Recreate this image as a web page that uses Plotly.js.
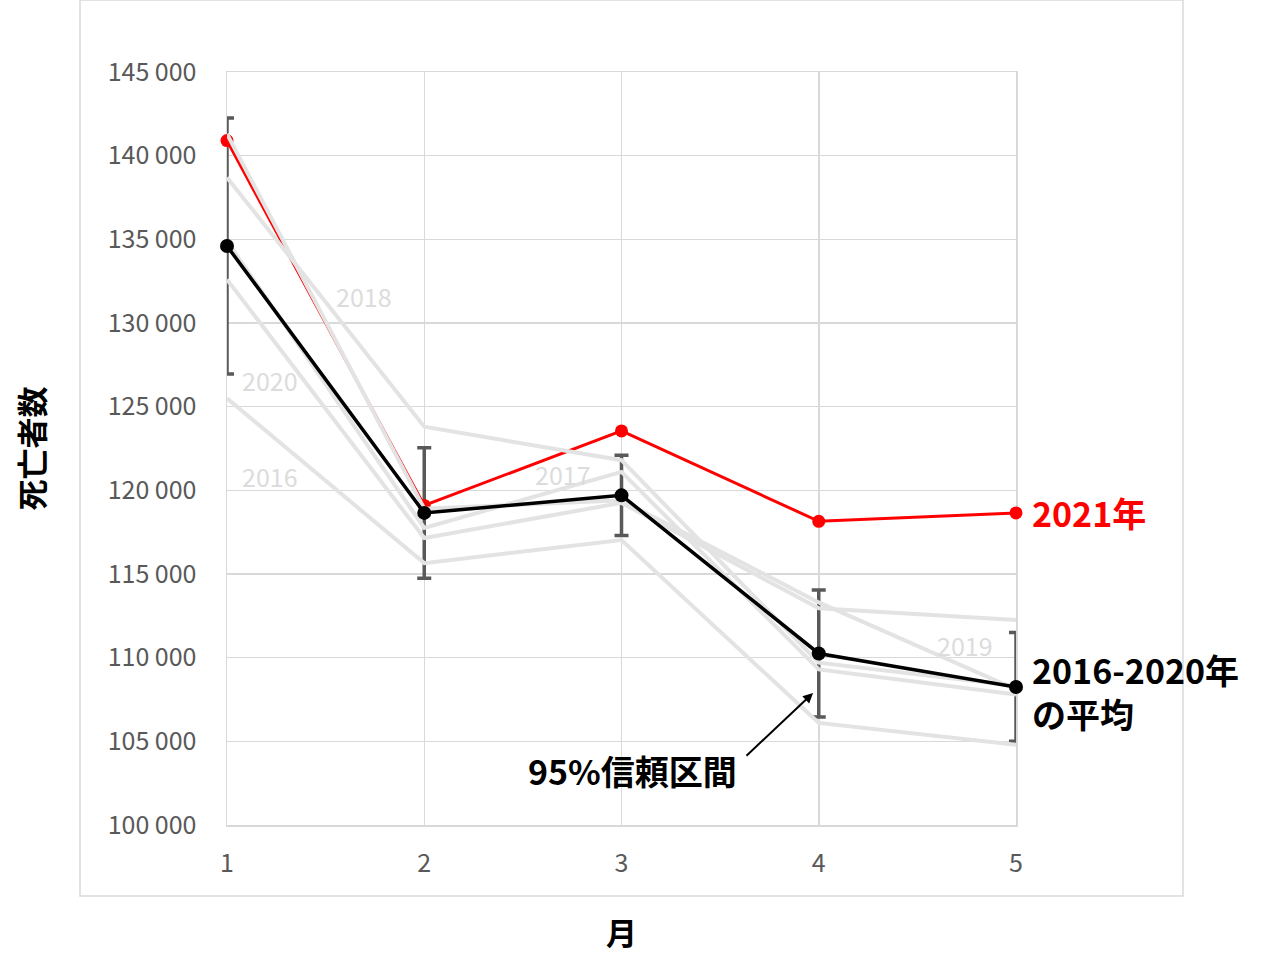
<!DOCTYPE html>
<html>
<head>
<meta charset="utf-8">
<script src="https://cdn.plot.ly/plotly-3.0.1.min.js"></script>
<style>
  html, body { margin: 0; padding: 0; background: #fff; }
  #graph { width: 1280px; height: 980px; }
</style>
</head>
<body>
<div id="graph"></div>
<script>
const months = [1, 2, 3, 4, 5];

// monthly deaths
const deaths2016 = [125500, 115650, 117030, 106100, 104800];
const deaths2017 = [134900, 117750, 121100, 109300, 107800];
const deaths2018 = [138700, 123800, 121800, 109700, 108300];
const deaths2019 = [141300, 118900, 119400, 113300, 108100];
const deaths2020 = [132600, 117150, 119250, 112950, 112250];
const deaths2021 = [140900, 119100, 123550, 118150, 118650];

const mean1620 = [134600, 118650, 119700, 110250, 108250];
const ci95 = [7650, 3900, 2400, 3800, 3250];

const yTickVals = [100000, 105000, 110000, 115000, 120000, 125000, 130000, 135000, 140000, 145000];
const yTickText = ["100 000", "105 000", "110 000", "115 000", "120 000", "125 000", "130 000", "135 000", "140 000", "145 000"];

const FONT = "'Noto Sans CJK JP', 'Noto Sans', sans-serif";
const GREY = "#e3e3e3";
const GRID = "#d9d9d9";

function greyLine(values) {
  return {
    x: months,
    y: values,
    type: "scatter",
    mode: "lines",
    line: { color: GREY, width: 4 },
    cliponaxis: false,
    hoverinfo: "skip"
  };
}

const data = [
  {
    // error bars only
    x: months,
    y: mean1620,
    type: "scatter",
    mode: "markers",
    marker: { size: 1, color: "rgba(0,0,0,0)" },
    error_y: { type: "data", array: ci95, visible: true, color: "#595959", thickness: 3.5, width: 7 },
    cliponaxis: true,
    hoverinfo: "skip"
  },
  {
    x: months,
    y: deaths2021,
    type: "scatter",
    mode: "lines+markers",
    line: { color: "#ff0000", width: 3 },
    marker: { color: "#ff0000", size: 13 },
    cliponaxis: false
  },
  greyLine(deaths2016),
  greyLine(deaths2017),
  greyLine(deaths2018),
  greyLine(deaths2019),
  greyLine(deaths2020),
  {
    x: months,
    y: mean1620,
    type: "scatter",
    mode: "lines+markers",
    line: { color: "#000000", width: 3.5 },
    marker: { color: "#000000", size: 14 },
    cliponaxis: false
  }
];

function yearLabel(text, x, y) {
  return {
    text: text, x: x, y: y, xref: "x", yref: "y",
    showarrow: false,
    font: { family: FONT, size: 25, color: "#dcdcdc" }
  };
}

const layout = {
  width: 1280,
  height: 980,
  margin: { l: 227, r: 264, t: 72, b: 155 },
  paper_bgcolor: "#ffffff",
  plot_bgcolor: "#ffffff",
  showlegend: false,
  hovermode: false,
  font: { family: FONT, color: "#595959" },
  xaxis: {
    range: [1, 5],
    tickvals: months,
    ticks: "outside",
    ticklen: 15,
    tickcolor: "rgba(0,0,0,0)",
    tickfont: { family: FONT, size: 25, color: "#595959" },
    showgrid: true,
    gridcolor: GRID,
    gridwidth: 1.5,
    showline: true,
    linecolor: GRID,
    linewidth: 1.5,
    mirror: true,
    layer: "below traces",
    zeroline: false,
    title: { text: "<b>月</b>", font: { family: FONT, size: 31, color: "#000" }, standoff: 46 }
  },
  yaxis: {
    range: [100000, 145000],
    tickvals: yTickVals,
    ticktext: yTickText,
    ticks: "outside",
    ticklen: 24,
    tickcolor: "rgba(0,0,0,0)",
    tickfont: { family: FONT, size: 25, color: "#595959" },
    showgrid: true,
    gridcolor: GRID,
    gridwidth: 1.5,
    showline: true,
    linecolor: GRID,
    linewidth: 1.5,
    mirror: true,
    layer: "below traces",
    zeroline: false,
    title: { text: "<b>死亡者数</b>", font: { family: FONT, size: 31, color: "#000" }, standoff: 54 }
  },
  shapes: [
    {
      type: "rect", xref: "paper", yref: "paper",
      x0: -0.1863, x1: 1.2116, y0: -0.0943, y1: 1.0956,
      line: { color: GRID, width: 1.5 }
    }
  ],
  annotations: [
    yearLabel("2018", 1.695, 131600),
    yearLabel("2020", 1.218, 126600),
    yearLabel("2016", 1.218, 120850),
    yearLabel("2017", 2.703, 120980),
    yearLabel("2019", 4.741, 110750),
    {
      text: "<b>2021年</b>", x: 5, y: 118650, xref: "x", yref: "y",
      xanchor: "left", xshift: 14, showarrow: false,
      font: { family: FONT, size: 34, color: "#ff0000" }
    },
    {
      text: "<b>2016-2020年<br>の平均</b>", x: 5, y: 108000, xref: "x", yref: "y",
      xanchor: "left", align: "left", xshift: 14, showarrow: false,
      font: { family: FONT, size: 34, color: "#000000" }
    },
    {
      text: "<b>95%信頼区間</b>", x: 3.058, y: 103230, xref: "x", yref: "y",
      showarrow: false,
      font: { family: FONT, size: 34, color: "#000000" }
    },
    {
      text: "", x: 3.971, y: 107890, xref: "x", yref: "y",
      ax: 3.626, ay: 104060, axref: "x", ayref: "y",
      showarrow: true, arrowhead: 2, arrowsize: 1, arrowwidth: 2, arrowcolor: "#000000"
    }
  ]
};

Plotly.newPlot("graph", data, layout, { staticPlot: true, displayModeBar: false });
</script>
</body>
</html>
